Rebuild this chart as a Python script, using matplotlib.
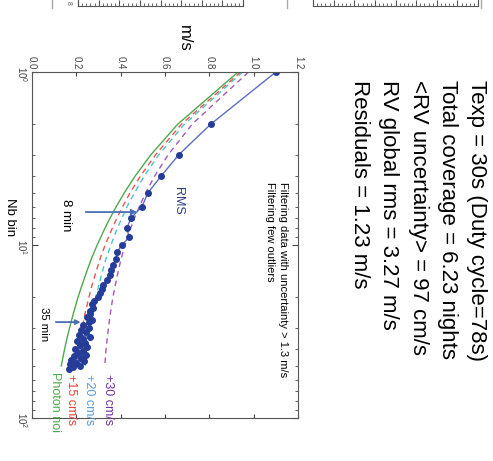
import matplotlib.pyplot as plt
from matplotlib.lines import Line2D

plt.rcParams['font.family'] = ['Liberation Sans', 'DejaVu Sans']

## noise curves (Nb bin -> m/s)
nb_curve = [1, 2, 3, 4, 5, 6, 7, 8, 10, 12, 14, 17, 20, 25, 30, 35, 40, 45, 50]
photon = [0.930, 0.658, 0.537, 0.465, 0.416, 0.380, 0.352, 0.329, 0.294, 0.268,
          0.249, 0.226, 0.208, 0.186, 0.170, 0.157, 0.147, 0.139, 0.132]
plus15 = [0.942, 0.675, 0.558, 0.489, 0.442, 0.409, 0.383, 0.362, 0.330, 0.307,
          0.291, 0.271, 0.257, 0.239, 0.227, 0.217, 0.210, 0.204, 0.200]
plus20 = [0.951, 0.688, 0.573, 0.506, 0.462, 0.429, 0.405, 0.385, 0.356, 0.334,
          0.319, 0.302, 0.289, 0.273, 0.262, 0.254, 0.248, 0.244, 0.240]
plus30 = [0.977, 0.723, 0.615, 0.553, 0.513, 0.484, 0.462, 0.445, 0.420, 0.402,
          0.390, 0.376, 0.365, 0.353, 0.345, 0.339, 0.334, 0.331, 0.328]

## measured rms per bin
nb_rms = list(range(1, 53))
rms = [1.100, 0.807, 0.663, 0.582, 0.523, 0.496, 0.446, 0.428, 0.438, 0.406,
       0.383, 0.379, 0.365, 0.356, 0.352, 0.338, 0.320, 0.316, 0.307, 0.298,
       0.280, 0.272, 0.276, 0.262, 0.262, 0.248, 0.270, 0.255, 0.232, 0.258,
       0.222, 0.245, 0.214, 0.262, 0.228, 0.205, 0.240, 0.218, 0.250, 0.196,
       0.232, 0.208, 0.244, 0.190, 0.222, 0.178, 0.236, 0.200, 0.172, 0.215,
       0.185, 0.165]

xticks = [0.0, 0.2, 0.4, 0.6, 0.8, 1.0, 1.2]

info = ['Texp = 30s (Duty cycle=78s)',
        'Total coverage = 6.23 nights',
        '<RV uncertainty> = 97 cm/s',
        'RV global rms = 3.27 m/s',
        'Residuals = 1.23 m/s']

W, H = 493, 461
def fx(px): return px / W
def fy(py): return 1 - py / H

fig = plt.figure(figsize=(W/100, H/100), dpi=100, facecolor='w')

## main panel, drawn already rotated (page is turned 90 deg)
ax = fig.add_axes([fx(32), fy(418), fx(298)-fx(32), fy(72)-fy(418)])
ax.plot(photon, nb_curve, color='#4fa84f', lw=1)
ax.plot(plus15, nb_curve, color='#e8554f', lw=1, ls=(0, (4, 3)))
ax.plot(plus20, nb_curve, color='#4cc3c6', lw=1, ls=(0, (4, 3)))
ax.plot(plus30, nb_curve, color='#a855c0', lw=1, ls=(0, (4, 3)))
ax.plot(rms, nb_rms, color='#5b6fc4', lw=1, marker='o', ms=4,
        mfc='#263d98', mec='#263d98')

ax.set_yscale('log')
ax.set_ylim(100, 1)
ax.set_xlim(0, 1.2)
ax.set_xticks(xticks)
ax.xaxis.set_major_formatter('{x:.1f}')
ax.tick_params(axis='x', which='both', top=True, bottom=True, labeltop=True,
               labelbottom=False, direction='in', labelrotation=-90,
               labelsize=7, length=3, colors='#444', pad=2)
ax.tick_params(axis='y', which='both', left=True, right=True, direction='in',
               labelrotation=-90, labelsize=7, colors='#444', pad=2)
ax.tick_params(axis='y', which='major', length=4)
ax.tick_params(axis='y', which='minor', length=2)
for s in ax.spines.values():
    s.set_color('#555')
    s.set_linewidth(0.8)

ax.annotate('', xy=(0.487, 6.45), xytext=(0.23, 6.45),
            arrowprops=dict(arrowstyle='-|>', color='#4a6fb5', lw=1.3, mutation_scale=8))
ax.annotate('', xy=(0.232, 27.9), xytext=(0.095, 27.9),
            arrowprops=dict(arrowstyle='-|>', color='#4a6fb5', lw=1.3, mutation_scale=7))

## labels
fig.text(fx(184), fy(25), 'm/s', rotation=-90, ha='center', va='top', fontsize=12)
fig.text(fx(10), fy(198), 'Nb bin', rotation=-90, ha='center', va='top', fontsize=9.5)
fig.text(fx(178), fy(187), 'RMS', rotation=-90, ha='center', va='top', fontsize=9, color='#2e3a87')
fig.text(fx(66), fy(199), '8 min', rotation=-90, ha='center', va='top', fontsize=9.5)
fig.text(fx(44), fy(307), '35 min', rotation=-90, ha='center', va='top', fontsize=8.2)
fig.text(fx(283), fy(182), 'Filtering data with uncertainty > 1.3 m/s', rotation=-90,
         ha='center', va='top', fontsize=8)
fig.text(fx(270), fy(182), 'Filtering few outliers', rotation=-90,
         ha='center', va='top', fontsize=8)

fig.text(fx(108), fy(374), '+30 cm/s', rotation=-90, ha='center', va='top', fontsize=9, color='#7030a0')
fig.text(fx(89), fy(374), '+20 cm/s', rotation=-90, ha='center', va='top', fontsize=9, color='#5b9bd5')
fig.text(fx(71), fy(374), '+15 cm/s', rotation=-90, ha='center', va='top', fontsize=9, color='#e8403a')
fig.text(fx(55), fy(372), 'Photon noi', rotation=-90, ha='center', va='top', fontsize=9, color='#4ea74e')

for i, line in enumerate(info):
    fig.text(fx(477 - 29.5*i), fy(80), line, rotation=-90, ha='center', va='top', fontsize=16)

## bits of the neighbouring panels cut off at the top of the page
for x0, x1 in [(78, 243), (313, 478)]:
    a = fig.add_axes([fx(x0), fy(6), fx(x1)-fx(x0), 0.05])
    a.set_xlim(0, 40)
    a.set_xticks(range(0, 41, 5))
    a.set_xticks(range(0, 41), minor=True)
    a.set_yticks([])
    a.tick_params(which='both', direction='in', labelbottom=False, color='#555')
    a.tick_params(which='major', length=4)
    a.tick_params(which='minor', length=2)
    for s in a.spines.values():
        s.set_color('#555')
        s.set_linewidth(0.8)
for x in [52, 287, 481]:
    fig.add_artist(Line2D([fx(x), fx(x)], [fy(8), 1], color='#aaa', lw=1))
fig.text(fx(68), fy(1), '8', rotation=-90, ha='center', va='top', fontsize=5, color='#555')

fig.savefig('out.png', dpi=100)
